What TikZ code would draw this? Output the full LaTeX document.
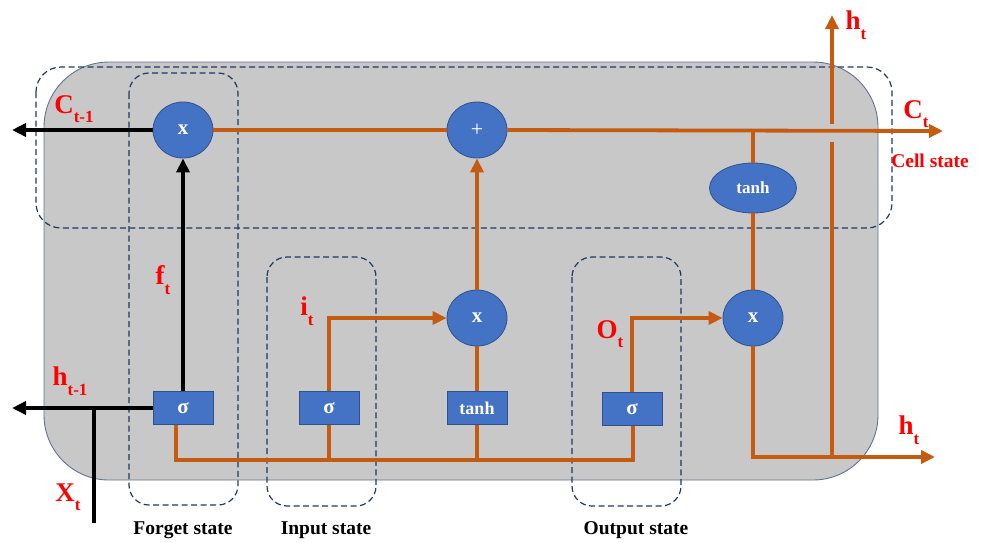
\documentclass[tikz,border=0pt]{standalone}
\usepackage{fontspec}
\setmainfont{Liberation Serif}
\usetikzlibrary{arrows.meta,shapes.geometric}
\definecolor{cellgray}{RGB}{200,200,200}
\definecolor{boxedge}{RGB}{100,115,145}
\definecolor{nodeblue}{RGB}{68,114,196}
\definecolor{nodeedge}{RGB}{47,82,143}
\definecolor{lstmorange}{RGB}{197,90,17}
\definecolor{dashnavy}{RGB}{31,56,100}
\definecolor{lblred}{RGB}{255,0,0}
\newcommand{\lsub}[1]{\raisebox{-0.35em}{\fontsize{17}{17}\selectfont #1}}
\begin{document}
\begin{tikzpicture}[x=1pt,y=-1pt,
  gate/.style={ellipse,draw=nodeedge,fill=nodeblue,line width=0.8pt,minimum width=60pt,minimum height=56pt,inner sep=0pt,text=white,font=\bfseries\fontsize{21}{21}\selectfont},
  act/.style={rectangle,draw=nodeedge,fill=nodeblue,line width=0.8pt,minimum width=60pt,minimum height=33pt,inner sep=0pt,text=white,font=\bfseries\fontsize{21}{21}\selectfont},
  region/.style={draw=dashnavy,line width=1.2pt,rounded corners=20pt,dash pattern=on 6pt off 3.5pt},
  orangeline/.style={draw=lstmorange,line width=3.8pt},
  blackline/.style={draw=black,line width=4.3pt},
  arrowhd/.style={-{Triangle[length=14pt,width=13pt]}},
  lbl/.style={text=lblred,font=\bfseries\fontsize{27}{27}\selectfont,inner sep=0pt},
  statecap/.style={font=\bfseries\fontsize{19.5}{19.5}\selectfont,inner sep=0pt}
]
\useasboundingbox (0,0) rectangle (982,542);
% background cell
\path[fill=cellgray,draw=boxedge,line width=0.9pt,rounded corners=65pt] (44,62) rectangle (878,480);
% dashed regions
\path[region,rounded corners=25pt] (36,67) rectangle (892,228);
\path[region] (129,73) rectangle (238,505);
\path[region] (267,257) rectangle (376,506);
\path[region] (572,257) rectangle (681,506);
% nodes
\node[gate] (fx) at (183,130) {x};
\node[gate,font=\fontsize{22}{22}\selectfont] (plus) at (477,130) {+};
\node[gate] (ix) at (477,318) {x};
\node[gate] (ox) at (753,318) {x};
\node[gate,minimum width=87pt,minimum height=50pt,font=\bfseries\fontsize{17}{17}\selectfont] (th) at (753,188) {tanh};
\node[act] (fs) at (183,408) {σ};
\node[act] (is) at (329,408) {σ};
\node[act,font=\bfseries\fontsize{18}{18}\selectfont] (ts) at (477,408) {tanh};
\node[act] (os) at (632,409) {σ};
% coordinates
\coordinate (cleft) at (12,130);
\coordinate (hleft) at (12,408);
\coordinate (xbot) at (94,523);
\coordinate (xtop) at (94,408);
\coordinate (ct) at (943,131);
\coordinate (bus) at (176,460);
\coordinate (busend) at (633,460);
\coordinate (hright) at (935,457);
\coordinate (hjoin) at (832,457);
\coordinate (hgaplo) at (832,142);
\coordinate (hgaphi) at (832,124);
\coordinate (htop) at (832,15);
% orange connectors
\draw[orangeline] (fx.east) -- (plus.west);
\draw[orangeline,arrowhd] (plus.east) -- (ct);
\draw[orangeline] (th.north) -- (th.north |- ct);
\draw[orangeline] (th.south) -- (ox.north);
\draw[orangeline,arrowhd] (ox.south) |- (hright);
\draw[orangeline] (hjoin) -- (hgaplo);
\draw[orangeline,arrowhd] (hgaphi) -- (htop);
\draw[orangeline,arrowhd] (ix.north) -- (plus.south);
\draw[orangeline] (ts.north) -- (ix.south);
\draw[orangeline,arrowhd] (is.north) |- (ix.west);
\draw[orangeline,arrowhd] (os.north) |- (ox.west);
\draw[orangeline] (fs.south -| bus) -- (bus) -- (busend) -- (os.south -| busend);
\draw[orangeline] (is.south) -- (is.south |- bus);
\draw[orangeline] (ts.south) -- (ts.south |- bus);
% black connectors
\draw[blackline,arrowhd] (fx.west) -- (cleft);
\draw[blackline,arrowhd] (fs.north) -- (fx.south);
\draw[blackline,arrowhd] (fs.west) -- (hleft);
\draw[blackline] (xbot) -- (xtop);
% labels
\node[lbl] (lc1) at (74,109) {C\lsub{t-1}};
\node[lbl] (lf) at (163,280) {f\lsub{t}};
\node[lbl] (lh1) at (70,381) {h\lsub{t-1}};
\node[lbl] (lx) at (68,497) {X\lsub{t}};
\node[lbl] (li) at (307,311) {i\lsub{t}};
\node[lbl] (lo) at (610,334) {O\lsub{t}};
\node[lbl] (lht) at (856,25) {h\lsub{t}};
\node[lbl] (lct) at (916,114) {C\lsub{t}};
\node[statecap,text=lblred] (lcs) at (930,161) {Cell state};
\node[lbl] (lhb) at (909,430) {h\lsub{t}};
\node[statecap] (lfs) at (183,530) {Forget state};
\node[statecap] (lis) at (326,530) {Input state};
\node[statecap] (los) at (636,530) {Output state};
\end{tikzpicture}
\end{document}
